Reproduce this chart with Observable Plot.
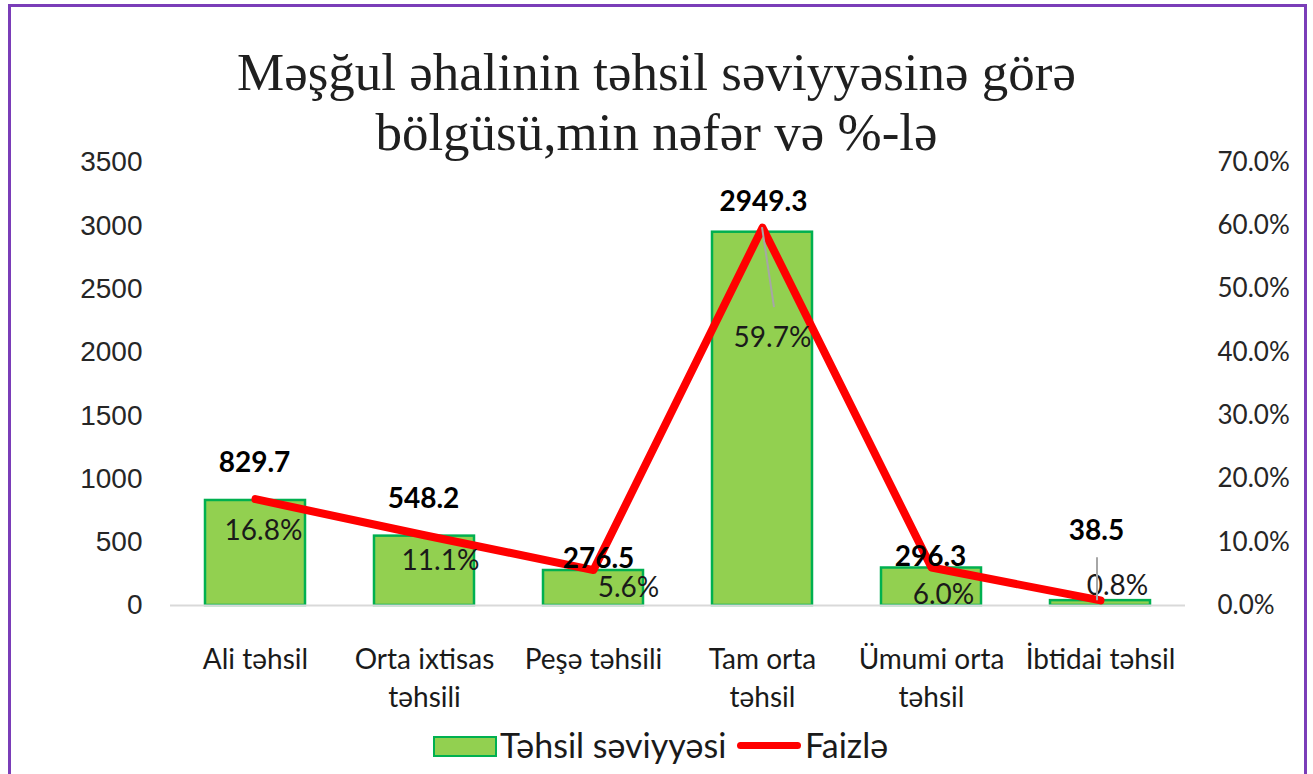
<!DOCTYPE html>
<html>
<head>
<meta charset="utf-8">
<script src="https://cdn.jsdelivr.net/npm/d3@7"></script>
<script src="https://cdn.jsdelivr.net/npm/@observablehq/plot@0.6"></script>
<style>
  html, body { margin: 0; padding: 0; background: #fff; }
  #wrap { position: relative; width: 1313px; height: 774px; overflow: hidden; background: #fff; }
  #border { position: absolute; left: 8px; top: 4px; width: 1299px; height: 840px; border: 3px solid #7A3DB8; box-sizing: border-box; }
  #title { position: absolute; left: 0; top: 42px; width: 1313px; text-align: center;
           font-family: "Liberation Serif", "DejaVu Serif", serif; font-size: 53px; line-height: 60px; color: #1f1f1f; }
  #chart { position: absolute; left: 0; top: 0; }
  .lg { position: absolute; font-family: Lato, "Liberation Sans", sans-serif; font-size: 34px; line-height: 36px; color: #1a1a1a; white-space: nowrap; }
</style>
</head>
<body>
<div id="wrap">
  <div id="border"></div>
  <div id="title">Məşğul əhalinin təhsil səviyyəsinə görə<br>bölgüsü,min nəfər və %-lə</div>
  <div id="chart"></div>
  <div id="legend"></div>
</div>
<script>
// ---- data ----
const categories = ["Ali təhsil", "Orta ixtisas təhsili", "Peşə təhsili", "Tam orta təhsil", "Ümumi orta təhsil", "İbtidai təhsil"];
const tickLabels = ["Ali təhsil", "Orta ixtisas\ntəhsili", "Peşə təhsili", "Tam orta\ntəhsil", "Ümumi orta\ntəhsil", "İbtidai təhsil"];
const values = [829.7, 548.2, 276.5, 2949.3, 296.3, 38.5];
const percents = [16.8, 11.1, 5.6, 59.7, 6.0, 0.8];
const leftTicks = [0, 500, 1000, 1500, 2000, 2500, 3000, 3500];
const rightTicks = [0, 10, 20, 30, 40, 50, 60, 70];
const yMax = 3500;   // left axis maximum
const pctMax = 70;   // right axis maximum
const seriesNames = ["Təhsil səviyyəsi", "Faizlə"];

// ---- label layout (pixel offsets from the data point) ----
const valueLabelOffsets = [[-1, -37], [-1, -37], [5, -11], [1, -30], [-1, -11], [-4, -70]];
const pctLabelOffsets = [[8, 32], [16, 26], [35, 18], [10, 110], [12, 28], [17, -14]];
const leaders = [
  {i: 3, series: "pct", from: [0, 0], to: [12, 80]},
  {i: 5, series: "value", from: [-3, 0], to: [-3, -43]}
];

const toY = p => p * yMax / pctMax;
const rows = categories.map((c, i) => ({cat: c, value: values[i], pct: percents[i], pctY: toY(percents[i])}));

const narrow = "Lato, 'Liberation Sans', sans-serif";

const chart = Plot.plot({
  width: 1313,
  height: 774,
  marginLeft: 170,
  marginRight: 128,
  marginTop: 162,
  marginBottom: 169,
  style: {background: "transparent", overflow: "visible"},
  x: {domain: categories, paddingInner: 0.41, paddingOuter: 0.205, axis: null},
  y: {domain: [0, yMax], axis: null},
  marks: [
    Plot.barY(rows, {x: "cat", y: "value", fill: "#92D050", stroke: "#00B050", strokeWidth: 2.5}),
    Plot.ruleY([0], {stroke: "#D9D9D9", strokeWidth: 2}),
    Plot.axisY(leftTicks, {anchor: "left", tickSize: 0, tickPadding: 28, fontSize: 28,
      fontFamily: "'Liberation Sans', Arial, sans-serif", fill: "#262626", label: null,
      tickFormat: d => String(d)}),
    Plot.axisY(rightTicks.map(toY), {anchor: "right", tickSize: 0, tickPadding: 32, fontSize: 26,
      fontFamily: narrow, fill: "#262626", label: null,
      tickFormat: d => (d * pctMax / yMax).toFixed(1) + "%"}),
    Plot.axisX(categories, {anchor: "bottom", tickSize: 0, tickPadding: 36, fontSize: 28, lineHeight: 1.36,
      fontFamily: narrow, fill: "#1a1a1a", label: null,
      tickFormat: d => tickLabels[categories.indexOf(d)]}),
    Plot.line(rows, {x: "cat", y: "pctY", stroke: "#FF0000", strokeWidth: 8, strokeLinecap: "round", strokeLinejoin: "round"}),
    ...rows.map((r, i) => Plot.text([r], {x: "cat", y: "value", text: d => d.value.toFixed(1),
      dx: valueLabelOffsets[i][0], dy: valueLabelOffsets[i][1],
      fontSize: 28, fontWeight: "bold", fontFamily: narrow, fill: "#000"})),
    ...rows.map((r, i) => Plot.text([r], {x: "cat", y: "pctY", text: d => d.pct.toFixed(1) + "%",
      dx: pctLabelOffsets[i][0], dy: pctLabelOffsets[i][1],
      fontSize: 28, fontFamily: narrow, fill: "#1a1a1a"}))
  ]
});

// leader lines, positioned through the chart's own scales
const sx = chart.scale("x"), sy = chart.scale("y");
const g = d3.select(chart).append("g").attr("stroke", "#A6A6A6").attr("stroke-width", 2);
for (const L of leaders) {
  const r = rows[L.i];
  const cx = sx.apply(r.cat) + sx.bandwidth / 2;
  const cy = sy.apply(L.series === "pct" ? r.pctY : r.value);
  g.append("line")
    .attr("x1", cx + L.from[0]).attr("y1", cy + L.from[1])
    .attr("x2", cx + L.to[0]).attr("y2", cy + L.to[1]);
}
document.getElementById("chart").appendChild(chart);

// legend
const legend = document.getElementById("legend");
legend.innerHTML = `
  <div style="position:absolute;left:433px;top:736px;width:64px;height:21px;background:#92D050;border:2px solid #00B050;box-sizing:border-box"></div>
  <div class="lg" style="left:500px;top:727px">${seriesNames[0]}</div>
  <div style="position:absolute;left:737px;top:742px;width:64px;height:7px;background:#FF0000;border-radius:4px"></div>
  <div class="lg" style="left:805px;top:727px">${seriesNames[1]}</div>`;
</script>
</body>
</html>
